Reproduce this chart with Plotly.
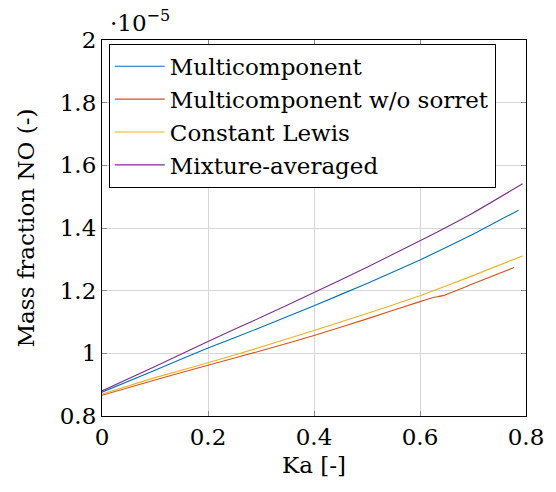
import plotly.graph_objects as go

# Karlovitz number samples and NO mass fraction (in units of 1e-5)
ka_multi = [0.0, 0.1, 0.2, 0.3, 0.4, 0.5, 0.6, 0.7, 0.786]
no_multi = [0.876, 0.946, 1.017, 1.083, 1.152, 1.223, 1.298, 1.380, 1.457]

ka_nosoret = [0.0, 0.1, 0.2, 0.3, 0.4, 0.5, 0.6, 0.625, 0.645, 0.7, 0.7775]
no_nosoret = [0.866, 0.915, 0.962, 1.008, 1.057, 1.110, 1.165, 1.178, 1.185, 1.222, 1.274]

ka_lewis = [0.0, 0.1, 0.2, 0.3, 0.4, 0.5, 0.6, 0.7, 0.7935]
no_lewis = [0.870, 0.9225, 0.970, 1.020, 1.073, 1.127, 1.184, 1.248, 1.311]

ka_mix = [0.0, 0.1, 0.2, 0.3, 0.4, 0.5, 0.6, 0.7, 0.7935]
no_mix = [0.880, 0.958, 1.038, 1.115, 1.194, 1.275, 1.359, 1.448, 1.541]

x_ticks = [0, 0.2, 0.4, 0.6, 0.8]
x_tick_text = ["0", "0.2", "0.4", "0.6", "0.8"]
y_ticks = [0.8, 1.0, 1.2, 1.4, 1.6, 1.8, 2.0]
y_tick_text = ["0.8", "1", "1.2", "1.4", "1.6", "1.8", "2"]

FONT = "DejaVu Serif"
FS = 23

series = [
    ("Multicomponent", ka_multi, no_multi, "#0072BD"),
    ("Multicomponent w/o sorret", ka_nosoret, no_nosoret, "#D95319"),
    ("Constant Lewis", ka_lewis, no_lewis, "#EDB120"),
    ("Mixture-averaged", ka_mix, no_mix, "#7E2F8E"),
]

fig = go.Figure()
for name, xs, ys, color in series:
    fig.add_trace(go.Scatter(x=xs, y=ys, mode="lines", name=name,
                             line=dict(color=color, width=1.1, shape="spline", smoothing=0.4)))

axis_common = dict(
    showgrid=True, gridcolor="#d6d6d6", gridwidth=1,
    showline=True, linecolor="black", linewidth=1.2, mirror="allticks",
    ticks="inside", ticklen=5, tickcolor="#888888", tickwidth=1.2,
    zeroline=False,
    tickfont=dict(family=FONT, size=FS, color="black"),
)

fig.update_layout(
    width=556, height=492,
    margin=dict(l=102, r=25, t=40, b=76),
    paper_bgcolor="white", plot_bgcolor="white",
    font=dict(family=FONT, size=FS, color="black"),
    xaxis=dict(range=[0, 0.8], tickvals=x_ticks, ticktext=x_tick_text,
               title=dict(text="Ka [-]", font=dict(family=FONT, size=FS), standoff=8),
               **axis_common),
    yaxis=dict(range=[0.8, 2.0], tickvals=y_ticks, ticktext=y_tick_text,
               title=dict(text="Mass fraction NO (-)", font=dict(family=FONT, size=FS), standoff=18),
               **axis_common),
    legend=dict(x=0.016, y=0.99, xanchor="left", yanchor="top",
                bgcolor="white", bordercolor="black", borderwidth=1,
                font=dict(family=FONT, size=FS), tracegroupgap=0,
                itemwidth=50),
    showlegend=True,
    annotations=[dict(text="·10<sup>−5</sup>", xref="paper", yref="paper",
                      x=0.0, y=1.0, xanchor="left", yanchor="bottom",
                      xshift=6, yshift=2, showarrow=False,
                      font=dict(family=FONT, size=FS))],
)

fig.write_html("out.html")
